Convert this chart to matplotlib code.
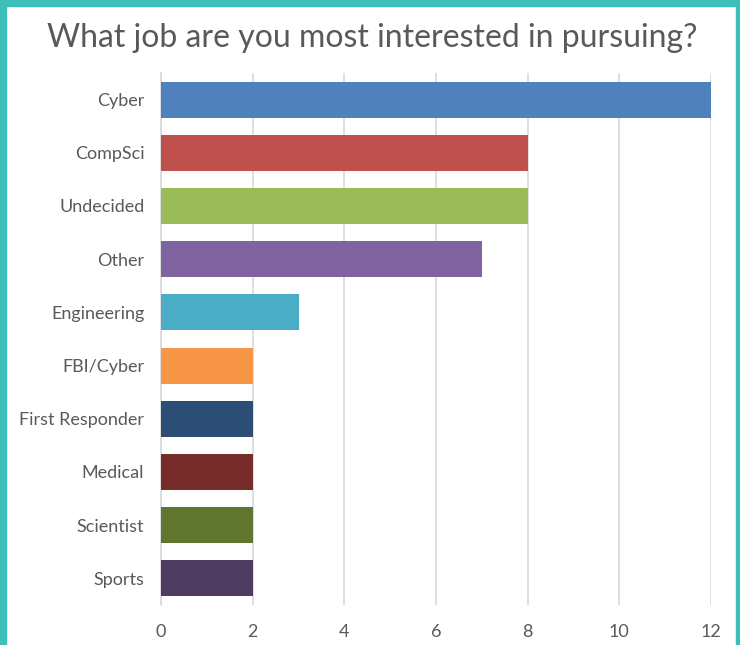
import matplotlib
matplotlib.use("Agg")
import matplotlib.pyplot as plt
from matplotlib.patches import Rectangle

categories = ["Cyber", "CompSci", "Undecided", "Other", "Engineering",
              "FBI/Cyber", "First Responder", "Medical", "Scientist", "Sports"]
counts = [12, 8, 8, 7, 3, 2, 2, 2, 2, 2]
colors = ["#4F81BD", "#C0504D", "#9BBB59", "#8064A2", "#4BACC6",
          "#F79646", "#2C4D75", "#772C2A", "#5F7530", "#4D3B62"]
xticks = [0, 2, 4, 6, 8, 10, 12]

plt.rcParams["font.family"] = ["Lato", "DejaVu Sans"]
text_color = "#595959"

fig = plt.figure(figsize=(7.40, 6.45), dpi=100)
ax = fig.add_axes([161 / 740, 1 - 605 / 645, 550 / 740, 532 / 645])

ypos = list(range(len(categories)))
ax.barh(ypos, counts, height=0.68, color=colors, zorder=3)
ax.set_ylim(len(categories) - 0.5, -0.5)
ax.set_xlim(0, 12)
ax.set_xticks(xticks)
ax.set_xticklabels([str(t) for t in xticks])
ax.set_yticks(ypos)
ax.set_yticklabels(categories)

ax.grid(axis="x", color="#D9D9D9", linewidth=1.2, zorder=0)
for s in ["top", "right", "bottom"]:
    ax.spines[s].set_visible(False)
ax.spines["left"].set_color("#D9D9D9")
ax.spines["left"].set_linewidth(1.2)
ax.tick_params(axis="both", length=0, colors=text_color, labelsize=13)
ax.tick_params(axis="y", pad=12)
ax.tick_params(axis="x", pad=14)

fig.text(372 / 740, 1 - 38 / 645, "What job are you most interested in pursuing?",
         ha="center", va="center", fontsize=23, color=text_color)

# teal frame around the chart area
teal = "#3DBFB8"
fig.patches.append(Rectangle((0, 0), 6 / 740, 1, transform=fig.transFigure,
                             color=teal, zorder=10))
fig.patches.append(Rectangle((0, 1 - 6 / 645), 1, 6 / 645, transform=fig.transFigure,
                             color=teal, zorder=10))
fig.patches.append(Rectangle((736 / 740, 0), 4 / 740, 1, transform=fig.transFigure,
                             color=teal, zorder=10))

fig.savefig("out.png", dpi=100)
